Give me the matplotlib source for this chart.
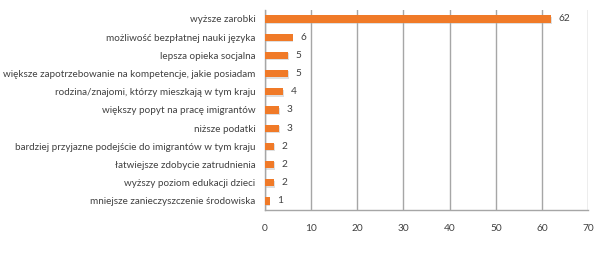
import numpy as np
import matplotlib.pyplot as plt
import matplotlib.patheffects as pe

plt.rcParams['font.family'] = ['Lato', 'DejaVu Sans']

labels = ['wyższe zarobki',
          'możliwość bezpłatnej nauki języka',
          'lepsza opieka socjalna',
          'większe zapotrzebowanie na kompetencje, jakie posiadam',
          'rodzina/znajomi, którzy mieszkają w tym kraju',
          'większy popyt na pracę imigrantów',
          'niższe podatki',
          'bardziej przyjazne podejście do imigrantów w tym kraju',
          'łatwiejsze zdobycie zatrudnienia',
          'wyższy poziom edukacji dzieci',
          'mniejsze zanieczyszczenie środowiska']
values = [62, 6, 5, 5, 4, 3, 3, 2, 2, 2, 1]
xticks = [0, 10, 20, 30, 40, 50, 60, 70]

fig = plt.figure(figsize=(6.12, 2.6), dpi=100)
ax = fig.add_axes([0.433, 0.192, 0.528, 0.77])

y = np.arange(len(values))
bars = ax.barh(y, values, height=0.4, color='#F07A28', zorder=3)
for b in bars:
    b.set_path_effects([pe.SimplePatchShadow(offset=(0.5, -1), shadow_rgbFace='#B0B0B0', alpha=0.4),
                        pe.Normal()])

for yi, v in zip(y, values):
    ax.text(v + 1.6, yi, str(v), va='center', ha='left', fontsize=7.3, color='#404040')

ax.set_xlim(0, 70)
ax.set_ylim(len(values) - 0.5, -0.5)
ax.set_xticks(xticks)
ax.set_yticks(y)
ax.set_yticklabels(labels)
ax.tick_params(axis='both', length=0, labelsize=7.1, labelcolor='#404040')
ax.tick_params(axis='x', pad=10, labelsize=7.3)
ax.tick_params(axis='y', pad=7)

ax.grid(axis='x', color='#A6A6A6', linewidth=1, zorder=0)
for s in ['top', 'right']:
    ax.spines[s].set_visible(False)
for s in ['left', 'bottom']:
    ax.spines[s].set_color('#A6A6A6')
    ax.spines[s].set_linewidth(1)

plt.savefig('out.png', dpi=100)
